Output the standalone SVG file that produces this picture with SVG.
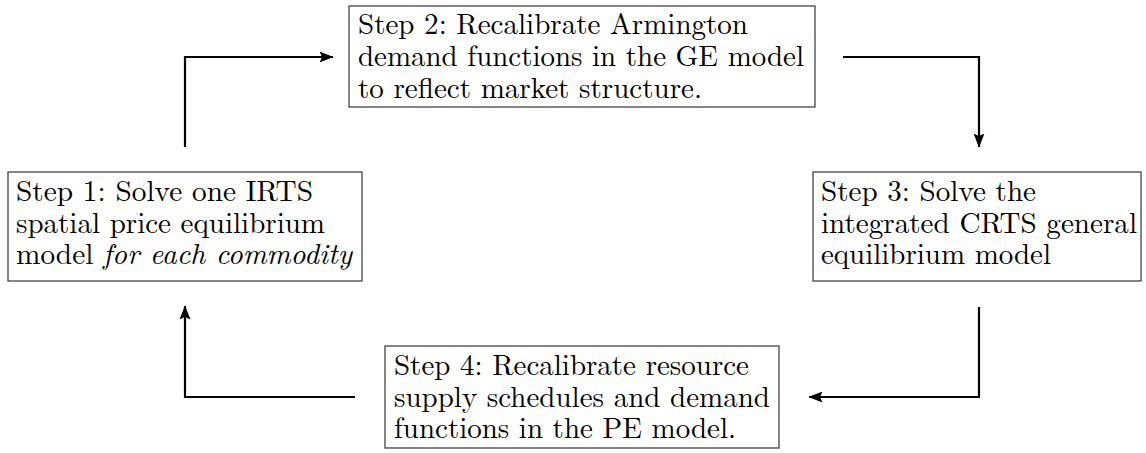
<svg xmlns="http://www.w3.org/2000/svg" width="1146" height="453" viewBox="0 0 1146 453">
<style>
.box{fill:#fff;stroke:#444;stroke-width:1.3}
.t{font-family:"Latin Modern Roman","CMU Serif","Liberation Serif",Tinos,"Nimbus Roman","Noto Serif","Times New Roman",Times,FreeSerif,"DejaVu Serif",serif;font-size:29px;fill:#000}
.i{font-style:italic}
.c{fill:none;stroke:#000;stroke-width:2.2}
</style>
<defs>
<marker id="ah" markerWidth="14" markerHeight="11" refX="13.5" refY="5.5" orient="auto" markerUnits="userSpaceOnUse" viewBox="0 0 14 11">
<path d="M0,0 L14,5.5 L0,11 L2.5,5.5 Z" fill="#000"/>
</marker>
</defs>
<rect width="1146" height="453" fill="#fff"/>
<g id="step2">
<rect class="box" x="349" y="6" width="466" height="101"/>
<text class="t"><tspan x="358" y="34" textLength="390" lengthAdjust="spacingAndGlyphs">Step 2: Recalibrate Armington</tspan><tspan x="358" y="66" textLength="446" lengthAdjust="spacingAndGlyphs">demand functions in the GE model</tspan><tspan x="358" y="98" textLength="344" lengthAdjust="spacingAndGlyphs">to reflect market structure.</tspan></text>
</g>
<g id="step1">
<rect class="box" x="8" y="172" width="354" height="109"/>
<text class="t"><tspan x="16" y="201" textLength="297" lengthAdjust="spacingAndGlyphs">Step 1: Solve one IRTS</tspan><tspan x="16" y="233" textLength="309" lengthAdjust="spacingAndGlyphs">spatial price equilibrium</tspan><tspan x="16" y="264" textLength="336" lengthAdjust="spacingAndGlyphs">model <tspan class="i">for each commodity</tspan></tspan></text>
</g>
<g id="step3">
<rect class="box" x="813" y="172" width="328" height="109"/>
<text class="t"><tspan x="821" y="201" textLength="215" lengthAdjust="spacingAndGlyphs">Step 3: Solve the</tspan><tspan x="821" y="233" textLength="316" lengthAdjust="spacingAndGlyphs">integrated CRTS general</tspan><tspan x="821" y="264" textLength="230" lengthAdjust="spacingAndGlyphs">equilibrium model</tspan></text>
</g>
<g id="step4">
<rect class="box" x="385" y="346" width="394" height="102"/>
<text class="t"><tspan x="394" y="375" textLength="355" lengthAdjust="spacingAndGlyphs">Step 4: Recalibrate resource</tspan><tspan x="394" y="407" textLength="376" lengthAdjust="spacingAndGlyphs">supply schedules and demand</tspan><tspan x="394" y="438" textLength="342" lengthAdjust="spacingAndGlyphs">functions in the PE model.</tspan></text>
</g>
<g id="connectors">
<polyline class="c" points="185,147 185,57 333,57" marker-end="url(#ah)"/>
<polyline class="c" points="843,57 979,57 979,147" marker-end="url(#ah)"/>
<polyline class="c" points="979,307 979,397 809,397" marker-end="url(#ah)"/>
<polyline class="c" points="355,397 185,397 185,306" marker-end="url(#ah)"/>
</g>
</svg>
